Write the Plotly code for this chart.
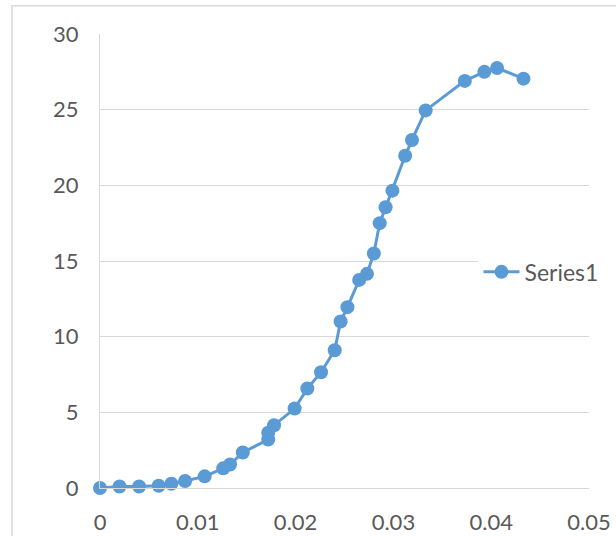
import plotly.graph_objects as go

# Data
x_values = [0.0, 0.002, 0.004, 0.006, 0.0073, 0.0087, 0.0107, 0.0126, 0.0133,
            0.0146, 0.0172, 0.0172, 0.0178, 0.0199, 0.0212, 0.0226, 0.0240,
            0.0246, 0.0253, 0.0265, 0.0273, 0.0280, 0.0286, 0.0292, 0.0299,
            0.0312, 0.0319, 0.0333, 0.0373, 0.0393, 0.0406, 0.0433]
y_values = [0.0, 0.1, 0.1, 0.15, 0.28, 0.46, 0.77, 1.3, 1.55,
            2.35, 3.2, 3.65, 4.15, 5.25, 6.57, 7.65, 9.1,
            11.0, 11.95, 13.75, 14.15, 15.5, 17.5, 18.55, 19.65,
            21.95, 23.0, 24.95, 26.9, 27.5, 27.75, 27.05]
series_name = "Series1"
x_ticks = [0, 0.01, 0.02, 0.03, 0.04, 0.05]
x_tick_labels = ["0", "0.01", "0.02", "0.03", "0.04", "0.05"]
y_ticks = [0, 5, 10, 15, 20, 25, 30]

blue = "#5B9BD5"
grid = "#D9D9D9"
text_color = "#595959"
font_family = "Lato, 'Open Sans', sans-serif"

fig = go.Figure()
fig.add_trace(go.Scatter(
    x=x_values, y=y_values, name=series_name, mode="lines+markers",
    line=dict(color=blue, width=3),
    marker=dict(color=blue, size=14),
    cliponaxis=False,
))

fig.update_layout(
    width=616, height=536,
    margin=dict(l=100, r=27, t=34, b=48, autoexpand=False),
    paper_bgcolor="white", plot_bgcolor="white",
    font=dict(family=font_family, size=22, color=text_color),
    showlegend=True,
    legend=dict(x=0.774, y=0.476, xanchor="left", yanchor="middle",
                bgcolor="white", font=dict(size=23, color=text_color),
                borderwidth=0, itemwidth=36),
    xaxis=dict(range=[0, 0.05], tickvals=x_ticks, ticktext=x_tick_labels,
               showgrid=False, zeroline=False, showline=True,
               linecolor=grid, linewidth=1, automargin=False,
               ticks="", ticklabelstandoff=15, fixedrange=True),
    yaxis=dict(range=[0, 30], tickvals=y_ticks, showgrid=True,
               gridcolor=grid, gridwidth=1, zeroline=False, automargin=False,
               showline=True, linecolor=grid, linewidth=1,
               ticks="", ticklabelstandoff=16, fixedrange=True),
    shapes=[dict(type="rect", xref="paper", yref="paper",
                 x0=-0.180, x1=1.2, y0=-0.2, y1=1.062,
                 line=dict(color=grid, width=1.5), layer="below")],
)

fig.write_html(
    "out.html",
    config={"displayModeBar": False},
    post_script="document.body.style.margin='0';document.body.style.overflow='hidden';",
)
